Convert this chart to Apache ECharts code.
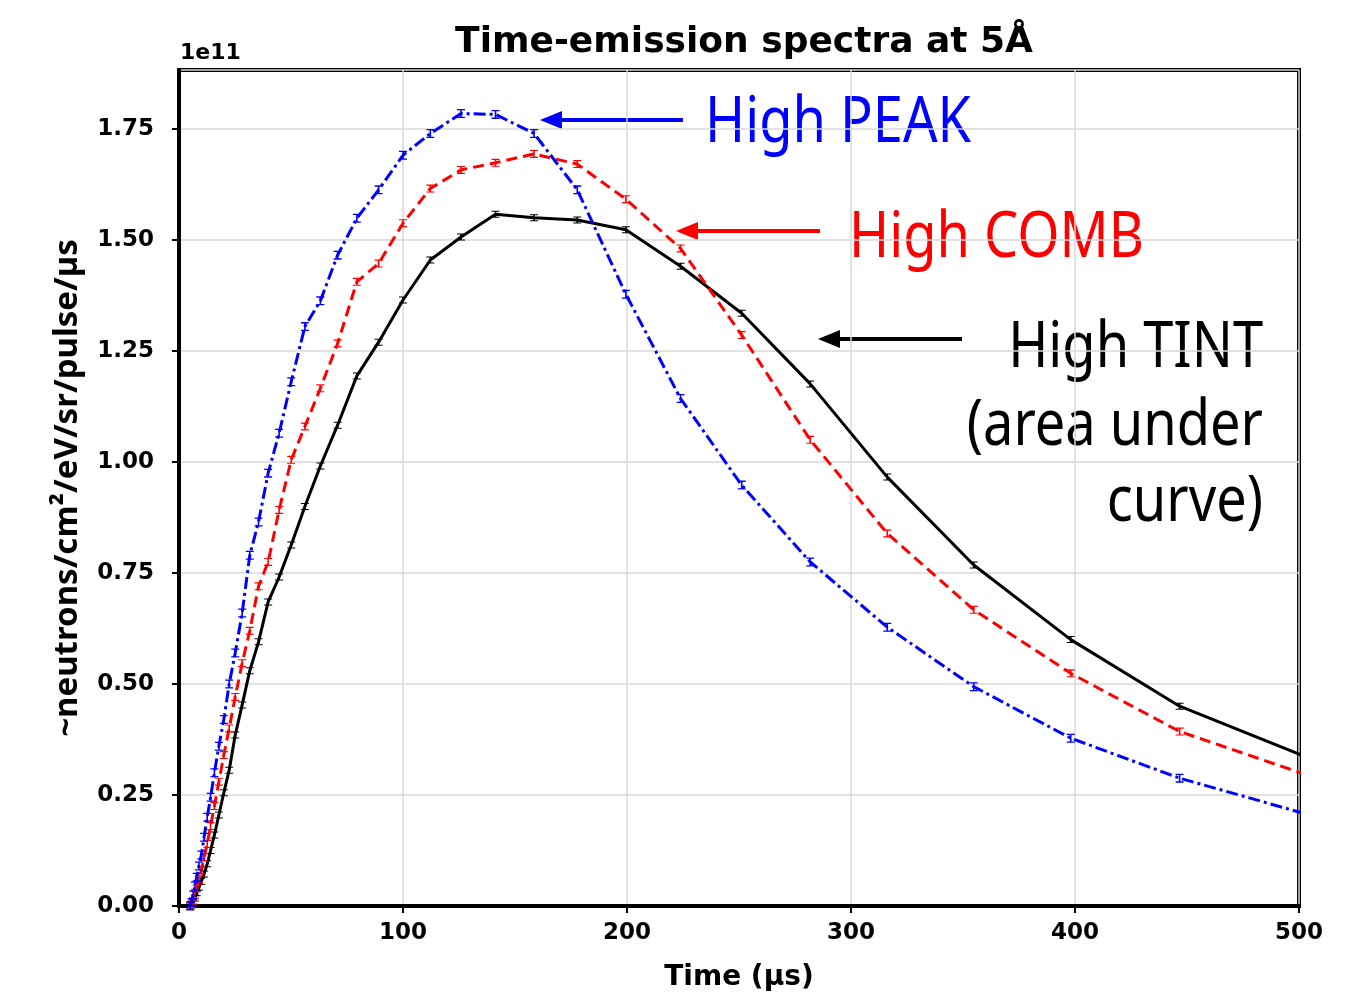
<!DOCTYPE html>
<html>
<head>
<meta charset="utf-8">
<script src="https://cdn.jsdelivr.net/npm/echarts@6/dist/echarts.min.js"></script>
<style>
  html, body { margin: 0; padding: 0; background: #fff; }
  #chart { width: 1348px; height: 1000px; }
</style>
</head>
<body>
<div id="chart"></div>
<script>
// time bins (µs), log spaced
var times = [5.0, 5.6, 6.3, 7.1, 7.9, 8.9, 10.0, 11.2, 12.6, 14.1, 15.8, 17.8, 20.0, 22.4,
    25.1, 28.2, 31.6, 35.5, 39.8, 44.7, 50.1, 56.2, 63.1, 70.8, 79.4, 89.1, 100.0, 112.2,
    125.9, 141.3, 158.5, 177.8, 199.5, 223.9, 251.2, 281.8, 316.2, 354.8, 398.1, 446.7, 501.2];

// values in units of 1e11
var highPeak = [0.0, 0.008, 0.025, 0.045, 0.065, 0.09, 0.115, 0.155, 0.2, 0.245, 0.3, 0.36, 0.42, 0.5,
    0.57, 0.66, 0.79, 0.865, 0.975, 1.065, 1.181, 1.305, 1.363, 1.466, 1.549, 1.613, 1.691, 1.740,
    1.785, 1.783, 1.740, 1.613, 1.378, 1.143, 0.948, 0.775, 0.628, 0.494, 0.378, 0.288, 0.21];

var highComb = [0.0, 0.004, 0.012, 0.025, 0.04, 0.06, 0.08, 0.11, 0.14, 0.18, 0.225, 0.28, 0.34, 0.40,
    0.471, 0.547, 0.62, 0.72, 0.775, 0.892, 1.005, 1.08, 1.166, 1.267, 1.406, 1.447, 1.538, 1.616,
    1.658, 1.674, 1.694, 1.671, 1.592, 1.481, 1.286, 1.05, 0.839, 0.667, 0.524, 0.393, 0.299];

var highTint = [0.0, 0.003, 0.008, 0.018, 0.03, 0.042, 0.056, 0.072, 0.095, 0.125, 0.16, 0.205, 0.255, 0.306,
    0.385, 0.453, 0.53, 0.595, 0.685, 0.741, 0.813, 0.90, 0.991, 1.083, 1.194, 1.27, 1.365, 1.455,
    1.507, 1.558, 1.55, 1.545, 1.523, 1.441, 1.335, 1.176, 0.966, 0.768, 0.60, 0.45, 0.34];

var yTicks = ['0.00', '0.25', '0.50', '0.75', '1.00', '1.25', '1.50', '1.75'];

function pairs(ys) {
    return times.map(function (t, i) { return [t, ys[i]]; });
}

// little I-beam marker standing in for the error bar caps
var capSymbol = 'path://M0,0H10V2H6V12H10V14H0V12H4V2H0Z';

var chart = echarts.init(document.getElementById('chart'));

var boldFont = 'DejaVu Sans';
var noteFont = 'Noto Sans';

function arrow(x0, x1, y, color) {
    return {
        type: 'group',
        children: [
            { type: 'line', shape: { x1: x0 + 18, y1: y, x2: x1, y2: y },
              style: { stroke: color, lineWidth: 4 } },
            { type: 'polygon', shape: { points: [[x0, y], [x0 + 22, y - 9], [x0 + 22, y + 9]] },
              style: { fill: color } }
        ]
    };
}

function note(text, x, y, color, align) {
    return {
        type: 'text', x: x, y: y, scaleX: 0.86,
        style: { text: text, fill: color, font: '63px "' + noteFont + '"',
                 textAlign: align, textVerticalAlign: 'middle' }
    };
}

chart.setOption({
    animation: false,
    backgroundColor: '#fff',
    title: {
        text: 'Time-emission spectra at 5Å',
        left: 739, top: 20, textAlign: 'center',
        textStyle: { fontFamily: boldFont, fontWeight: 'bold', fontSize: 36, color: '#000' }
    },
    grid: {
        left: 179, right: 49, top: 70, bottom: 94,
        show: true, borderColor: '#000', borderWidth: 4, backgroundColor: 'transparent'
    },
    xAxis: {
        type: 'value', min: 0, max: 500, interval: 100,
        name: 'Time (µs)', nameLocation: 'middle', nameGap: 58,
        nameTextStyle: { fontFamily: boldFont, fontWeight: 'bold', fontSize: 28, color: '#000' },
        axisLine: { show: true, onZero: false, lineStyle: { color: '#000', width: 4 } },
        axisTick: { show: true, length: 7, lineStyle: { color: '#000', width: 2 } },
        axisLabel: { margin: 16, fontFamily: boldFont, fontWeight: 'bold', fontSize: 23, color: '#000' },
        splitLine: { show: true, lineStyle: { color: '#d9d9d9', width: 1.5 } }
    },
    yAxis: {
        type: 'value', min: 0, max: 1.883, interval: 0.25,
        name: '~neutrons/cm²/eV/sr/pulse/µs', nameLocation: 'middle', nameGap: 95,
        nameTextStyle: { fontFamily: noteFont, fontWeight: 'bold', fontSize: 33, color: '#000' },
        axisLine: { show: true, onZero: false, lineStyle: { color: '#000', width: 4 } },
        axisTick: { show: true, length: 7, lineStyle: { color: '#000', width: 2 } },
        axisLabel: {
            margin: 25, showMaxLabel: false,
            fontFamily: boldFont, fontWeight: 'bold', fontSize: 23, color: '#000',
            formatter: function (v) {
                var i = Math.round(v / 0.25);
                return Math.abs(v - i * 0.25) < 1e-6 && yTicks[i] ? yTicks[i] : '';
            }
        },
        splitLine: { show: true, lineStyle: { color: '#d9d9d9', width: 1.5 } }
    },
    graphic: [
        { type: 'text', x: 180, y: 53,
          style: { text: '1e11', fill: '#000', font: 'bold 22px "' + boldFont + '"',
                   textAlign: 'left', textVerticalAlign: 'middle' } },
        arrow(540, 683, 120, '#0000ff'),
        arrow(676, 820, 231, '#ff0000'),
        arrow(818, 962, 339, '#000000'),
        note('High PEAK', 705, 124, '#0000ff', 'left'),
        note('High COMB', 849, 239, '#ff0000', 'left'),
        note('High TINT', 1263, 349, '#000000', 'right'),
        note('(area under', 1263, 427, '#000000', 'right'),
        note('curve)', 1263, 503, '#000000', 'right')
    ],
    series: [
        {
            name: 'High TINT', type: 'line', data: pairs(highTint),
            symbol: capSymbol, symbolSize: [8, 7], showSymbol: true,
            itemStyle: { color: '#000' },
            lineStyle: { color: '#000', width: 3, type: 'solid' },
            z: 3
        },
        {
            name: 'High COMB', type: 'line', data: pairs(highComb),
            symbol: capSymbol, symbolSize: [8, 8], showSymbol: true,
            itemStyle: { color: '#ff0000' },
            lineStyle: { color: '#ff0000', width: 3, type: [11, 6] },
            z: 4
        },
        {
            name: 'High PEAK', type: 'line', data: pairs(highPeak),
            symbol: capSymbol, symbolSize: [8, 9], showSymbol: true,
            itemStyle: { color: '#0000ff' },
            lineStyle: { color: '#0000ff', width: 3, type: [12, 4, 3, 4] },
            z: 5
        }
    ]
});
</script>
</body>
</html>
